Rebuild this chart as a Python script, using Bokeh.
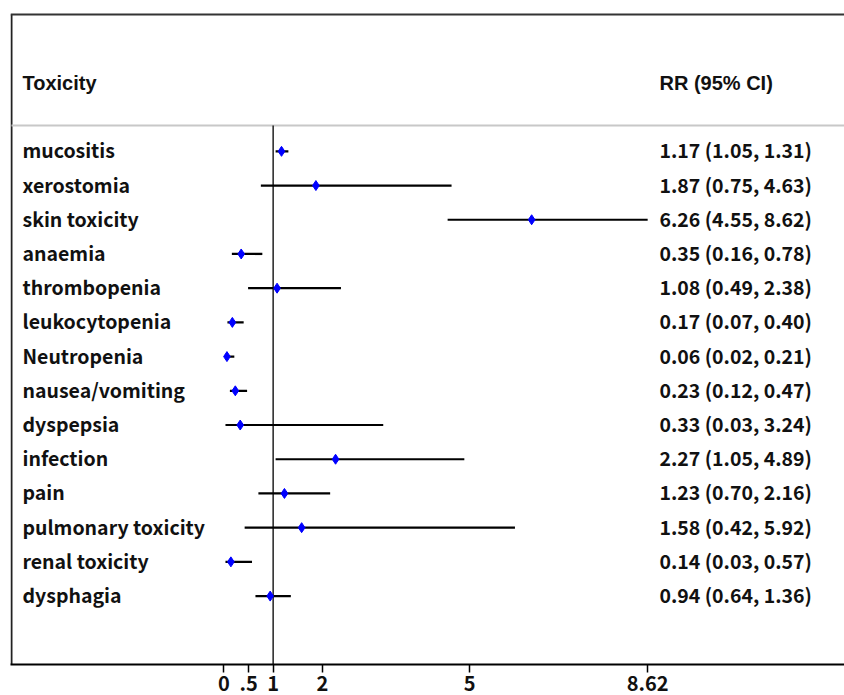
from bokeh.plotting import figure
from bokeh.models import Range1d, FixedTicker, LinearAxis
from bokeh.core.properties import value
from bokeh.embed import file_html
from bokeh.resources import INLINE

toxicity = ["mucositis", "xerostomia", "skin toxicity", "anaemia", "thrombopenia",
            "leukocytopenia", "Neutropenia", "nausea/vomiting", "dyspepsia", "infection",
            "pain", "pulmonary toxicity", "renal  toxicity", "dysphagia"]
rr = [1.17, 1.87, 6.26, 0.35, 1.08, 0.17, 0.06, 0.23, 0.33, 2.27, 1.23, 1.58, 0.14, 0.94]
ci_low = [1.05, 0.75, 4.55, 0.16, 0.49, 0.07, 0.02, 0.12, 0.03, 1.05, 0.70, 0.42, 0.03, 0.64]
ci_high = [1.31, 4.63, 8.62, 0.78, 2.38, 0.40, 0.21, 0.47, 3.24, 4.89, 2.16, 5.92, 0.57, 1.36]
tick_values = [0, 0.5, 1, 2, 5, 8.62]
tick_labels = ["0", ".5", "1", "2", "5", "8.62"]
header_left = "Toxicity"
header_right = "RR (95% CI)"

n = len(toxicity)
ys = [n - i for i in range(n)]
rr_text = [f"{r:.2f} ({l:.2f}, {h:.2f})" for r, l, h in zip(rr, ci_low, ci_high)]

x_start, x_end = -4.3439, 12.625
y_bot, y_top = -1.0, 18.0
p = figure(width=844, height=695, output_backend="svg", toolbar_location=None,
           x_range=Range1d(x_start, x_end), y_range=Range1d(y_bot, 18.409),
           min_border_left=10, min_border_right=0, min_border_top=0, min_border_bottom=31,
           x_axis_type=None, y_axis_type=None)
p.grid.visible = False
p.outline_line_color = None
p.background_fill_color = "white"
p.border_fill_color = "white"

xl = -4.3235   # left border
label_x = -4.10
rr_x = 8.86
header_y = 16.0
sep_y = 14.755

# frame lines
p.segment(x0=[xl], y0=[y_bot], x1=[xl], y1=[y_top], line_color="#222222", line_width=2)
p.segment(x0=[x_start], y0=[y_top], x1=[x_end], y1=[y_top], line_color="#333333", line_width=2)
p.segment(x0=[xl], y0=[sep_y], x1=[x_end], y1=[sep_y], line_color="#c8c8c8", line_width=2)
p.segment(x0=[1], y0=[y_bot], x1=[1], y1=[sep_y], line_color="#222222", line_width=1.5)

# CI lines and points
p.segment(x0=ci_low, y0=ys, x1=ci_high, y1=ys, line_color="black", line_width=2.2)
p.scatter(x=rr, y=ys, marker="diamond", size=10, fill_color="blue", line_color="blue")

# texts
p.text(x=[label_x] * n, y=ys, text=toxicity, text_font=value("Noto Sans CJK JP"),
       text_font_style="bold", text_font_size="19.5px", text_baseline="middle",
       text_align="left", text_color="#111111", y_offset=-1.5)
p.text(x=[rr_x] * n, y=ys, text=rr_text, text_font=value("Noto Sans CJK JP"),
       text_font_style="bold", text_font_size="19.5px", text_baseline="middle",
       text_align="left", text_color="#111111", y_offset=-1.5)
p.text(x=[label_x, rr_x], y=[header_y, header_y], text=[header_left, header_right],
       text_font=value("Liberation Sans"), text_font_style="bold", text_font_size="20px",
       text_baseline="middle", text_align="left", text_color="#111111")

ax = LinearAxis(ticker=FixedTicker(ticks=tick_values),
                major_label_overrides={v: s for v, s in zip(tick_values, tick_labels)})
ax.axis_line_width = 2
ax.axis_line_color = "black"
ax.major_tick_line_color = "black"
ax.major_tick_line_width = 1.5
ax.major_tick_out = 8
ax.major_tick_in = 0
ax.minor_tick_line_color = None
ax.major_label_standoff = 3
ax.major_label_text_font = "Noto Sans CJK JP"
ax.major_label_text_font_style = "bold"
ax.major_label_text_font_size = "20px"
ax.major_label_text_color = "#111111"
p.add_layout(ax, "below")

open("out.html", "w").write(file_html(p, INLINE))
